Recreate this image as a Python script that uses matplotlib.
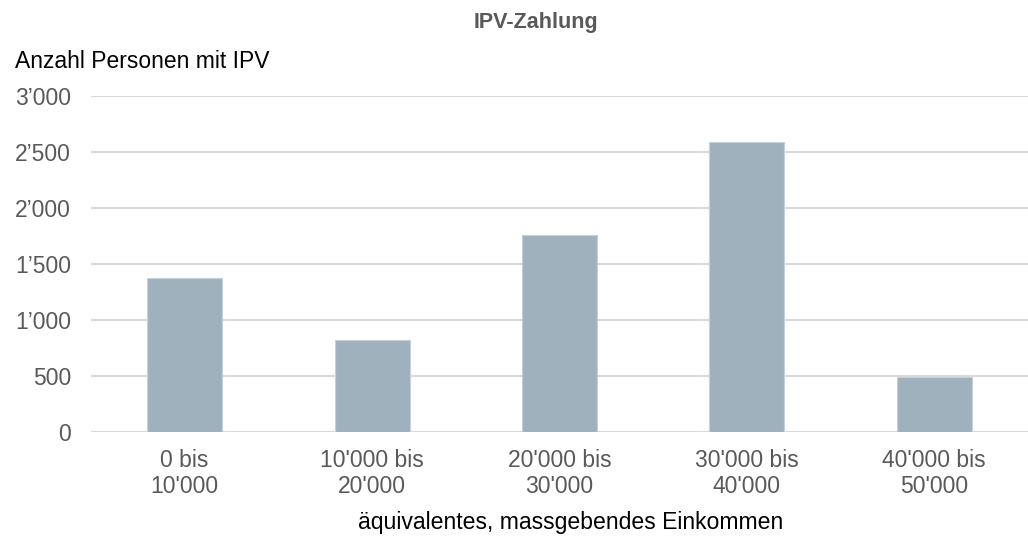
import matplotlib
matplotlib.use('Agg')
import matplotlib.pyplot as plt
from matplotlib.ticker import FixedLocator

# data
categories = ["0 bis\n10'000", "10'000 bis\n20'000", "20'000 bis\n30'000",
              "30'000 bis\n40'000", "40'000 bis\n50'000"]
persons = [1375, 825, 1762, 2589, 495]
yticks = [0, 500, 1000, 1500, 2000, 2500, 3000]
yticklabels = ['0', '500', '1\u2019000', '1\u2019500', '2\u2019000', '2\u2019500', '3\u2019000']

plt.rcParams['font.family'] = ['Liberation Sans', 'DejaVu Sans']

fig = plt.figure(figsize=(10.28, 5.37), dpi=100)
ax = fig.add_axes([0.0885, 0.1955, 0.9115, 0.6255])

x = list(range(len(categories)))
ax.bar(x, persons, width=0.4, color='#a0b1be', edgecolor='#c5d1da',
       linewidth=0.8, zorder=3)

ax.set_xlim(-0.5, len(categories) - 0.5)
ax.set_ylim(0, 3000)
ax.yaxis.set_major_locator(FixedLocator(yticks))
ax.set_yticklabels(yticklabels)
ax.set_xticks(x)
ax.set_xticklabels(categories, linespacing=1.2)

ax.grid(axis='y', color='#d9d9d9', linewidth=1.5, zorder=0)
for s in ax.spines.values():
    s.set_visible(False)
ax.tick_params(axis='both', length=0, colors='#595959', labelsize=16.5)
ax.tick_params(axis='y', pad=14.4)
ax.tick_params(axis='x', pad=12)

fig.text(0.521, 0.948, 'IPV-Zahlung', ha='center', va='baseline',
         fontsize=15.5, fontweight='bold', color='#595959')
fig.text(0.0146, 0.873, 'Anzahl Personen mit IPV', ha='left', va='baseline',
         fontsize=16.5, color='black')
fig.text(0.555, 0.015, 'äquivalentes, massgebendes Einkommen',
         ha='center', va='baseline', fontsize=16.6, color='black')

fig.savefig('out.png', dpi=100)
